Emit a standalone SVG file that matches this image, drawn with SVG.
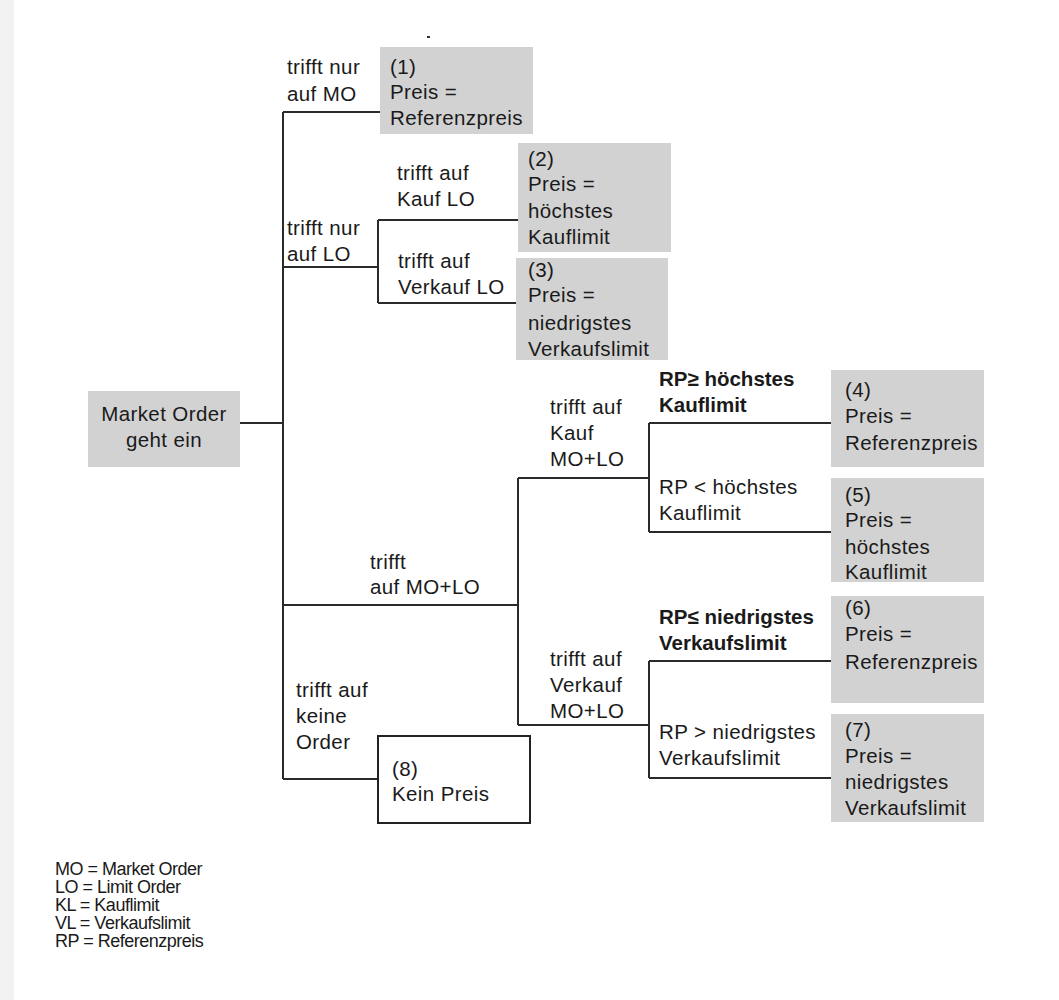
<svg xmlns="http://www.w3.org/2000/svg" width="1059" height="1000" viewBox="0 0 1059 1000">
<style>
  text { font-family: "Liberation Sans", Arial, sans-serif; font-size: 20.5px; letter-spacing: 0.4px; fill: #1a1a1a; }
  .b { font-weight: bold; letter-spacing: 0px; }
  .leg { font-size: 18px; letter-spacing: -0.5px; }
  .g { fill: #d2d2d2; stroke: none; }
  .w { fill: #ffffff; stroke: #222; stroke-width: 2; }
  #connectors path { fill: none; stroke: #2a2a2a; stroke-width: 2; }
</style>
<rect x="0" y="0" width="1059" height="1000" fill="#ffffff"/>
<rect x="0" y="0" width="14" height="1000" fill="#f2f2f2"/>
<rect x="427" y="36" width="3" height="2" fill="#333"/>

<g id="connectors">
  <path d="M240 423 H283"/>
  <path d="M283 112 V779"/>
  <path d="M283 112 H380"/>
  <path d="M283 267 H378"/>
  <path d="M378 220 V303"/>
  <path d="M378 220 H518"/>
  <path d="M378 303 H516"/>
  <path d="M283 605 H518"/>
  <path d="M518 478 V725"/>
  <path d="M518 478 H649"/>
  <path d="M649 423 V532"/>
  <path d="M649 423 H831"/>
  <path d="M649 532 H831"/>
  <path d="M518 725 H649"/>
  <path d="M649 661 V778"/>
  <path d="M649 661 H831"/>
  <path d="M649 778 H831"/>
  <path d="M283 779 H378"/>
</g>

<g id="labels">
  <text x="287" y="74">trifft nur</text>
  <text x="287" y="101">auf MO</text>
  <text x="397" y="180">trifft auf</text>
  <text x="397" y="206">Kauf LO</text>
  <text x="287" y="235">trifft nur</text>
  <text x="287" y="261">auf LO</text>
  <text x="398" y="268">trifft auf</text>
  <text x="398" y="294">Verkauf LO</text>
  <text class="b" x="659" y="386">RP≥ höchstes</text>
  <text class="b" x="659" y="412">Kauflimit</text>
  <text x="550" y="414">trifft auf</text>
  <text x="550" y="440">Kauf</text>
  <text x="550" y="466">MO+LO</text>
  <text x="659" y="494">RP &lt; höchstes</text>
  <text x="659" y="520">Kauflimit</text>
  <text x="370" y="569">trifft</text>
  <text x="370" y="594">auf MO+LO</text>
  <text class="b" x="659" y="624">RP≤ niedrigstes</text>
  <text class="b" x="659" y="650">Verkaufslimit</text>
  <text x="550" y="666">trifft auf</text>
  <text x="550" y="692">Verkauf</text>
  <text x="550" y="718">MO+LO</text>
  <text x="296" y="697">trifft auf</text>
  <text x="296" y="723">keine</text>
  <text x="296" y="749">Order</text>
  <text x="659" y="739">RP &gt; niedrigstes</text>
  <text x="659" y="765">Verkaufslimit</text>
</g>

<g id="start">
  <rect class="g" x="88" y="391" width="152" height="76"/>
  <text x="164" y="421" text-anchor="middle">Market Order</text>
  <text x="164" y="447" text-anchor="middle">geht ein</text>
</g>
<g id="n1">
  <rect class="g" x="380" y="47" width="153" height="87"/>
  <text x="390" y="74">(1)</text>
  <text x="390" y="99">Preis =</text>
  <text x="390" y="125">Referenzpreis</text>
</g>
<g id="n2">
  <rect class="g" x="518" y="143" width="153" height="109"/>
  <text x="528" y="166">(2)</text>
  <text x="528" y="191">Preis =</text>
  <text x="528" y="218">höchstes</text>
  <text x="528" y="244">Kauflimit</text>
</g>
<g id="n3">
  <rect class="g" x="516" y="258" width="152" height="102"/>
  <text x="528" y="277">(3)</text>
  <text x="528" y="302">Preis =</text>
  <text x="528" y="330">niedrigstes</text>
  <text x="528" y="356">Verkaufslimit</text>
</g>
<g id="n4">
  <rect class="g" x="831" y="370" width="153" height="97"/>
  <text x="845" y="397">(4)</text>
  <text x="845" y="423">Preis =</text>
  <text x="845" y="450">Referenzpreis</text>
</g>
<g id="n5">
  <rect class="g" x="831" y="478" width="153" height="104"/>
  <text x="845" y="502">(5)</text>
  <text x="845" y="527">Preis =</text>
  <text x="845" y="554">höchstes</text>
  <text x="845" y="579">Kauflimit</text>
</g>
<g id="n6">
  <rect class="g" x="831" y="596" width="153" height="107"/>
  <text x="845" y="615">(6)</text>
  <text x="845" y="641">Preis =</text>
  <text x="845" y="669">Referenzpreis</text>
</g>
<g id="n7">
  <rect class="g" x="831" y="714" width="153" height="108"/>
  <text x="845" y="737">(7)</text>
  <text x="845" y="763">Preis =</text>
  <text x="845" y="789">niedrigstes</text>
  <text x="845" y="815">Verkaufslimit</text>
</g>
<g id="n8">
  <rect class="w" x="378" y="736" width="152" height="87"/>
  <text x="392" y="776">(8)</text>
  <text x="392" y="801">Kein Preis</text>
</g>

<g id="legend">
  <text class="leg" x="55" y="875">MO = Market Order</text>
  <text class="leg" x="55" y="893">LO = Limit Order</text>
  <text class="leg" x="55" y="911">KL = Kauflimit</text>
  <text class="leg" x="55" y="929">VL = Verkaufslimit</text>
  <text class="leg" x="55" y="947">RP = Referenzpreis</text>
</g>
</svg>
